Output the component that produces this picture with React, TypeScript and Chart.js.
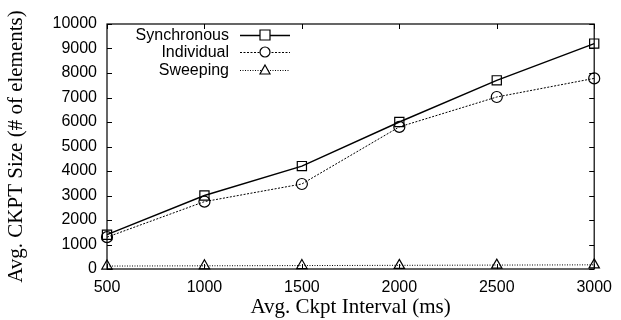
import React, { useEffect, useRef } from "react";
import { Chart, registerables } from "chart.js";

Chart.register(...registerables);

const intervals = [500, 1000, 1500, 2000, 2500, 3000];
const synchronous = [1400, 3000, 4200, 6000, 7700, 9200];
const individual = [1300, 2750, 3470, 5800, 7020, 7780];
const sweeping = [120, 130, 140, 150, 160, 170];
const seriesNames = ["Synchronous", "Individual", "Sweeping"];
const xTicks = [500, 1000, 1500, 2000, 2500, 3000];
const yTicks = [0, 1000, 2000, 3000, 4000, 5000, 6000, 7000, 8000, 9000, 10000];

const SANS = "'Liberation Sans', Arial, sans-serif";
const SERIF = "'Liberation Serif', 'Times New Roman', serif";

const framePlugin = {
  id: "frame",
  afterDatasetsDraw(chart: any) {
    const { ctx, chartArea } = chart;
    const { left, right, top, bottom } = chartArea;
    const xs = chart.scales.x;
    const ys = chart.scales.y;
    ctx.save();
    ctx.strokeStyle = "#000";
    ctx.lineWidth = 1.2;
    ctx.setLineDash([]);
    ctx.strokeRect(left, top, right - left, bottom - top);
    ctx.lineWidth = 1;
    const tl = 5;
    ctx.beginPath();
    xTicks.forEach((v) => {
      const px = Math.round(xs.getPixelForValue(v)) + 0.5;
      ctx.moveTo(px, bottom);
      ctx.lineTo(px, bottom - tl);
      ctx.moveTo(px, top);
      ctx.lineTo(px, top + tl);
    });
    yTicks.forEach((v) => {
      const py = Math.round(ys.getPixelForValue(v)) + 0.5;
      ctx.moveTo(left, py);
      ctx.lineTo(left + tl, py);
      ctx.moveTo(right, py);
      ctx.lineTo(right - tl, py);
    });
    ctx.stroke();

    // legend
    const textRight = 229;
    const lineStart = 240;
    const lineEnd = 290;
    const rows = [35, 52, 70];
    ctx.font = `16px ${SANS}`;
    ctx.fillStyle = "#000";
    ctx.textAlign = "right";
    ctx.textBaseline = "middle";
    chart.data.datasets.forEach((ds: any, i: number) => {
      const y = rows[i];
      ctx.fillText(ds.label, textRight, y + 1);
      ctx.save();
      ctx.strokeStyle = "#000";
      ctx.lineWidth = ds.borderWidth;
      ctx.setLineDash(ds.borderDash || []);
      ctx.beginPath();
      ctx.moveTo(lineStart, y + 0.5);
      ctx.lineTo(lineEnd, y + 0.5);
      ctx.stroke();
      ctx.setLineDash([]);
      ctx.fillStyle = "#fff";
      ctx.lineWidth = 1.2;
      const cx = (lineStart + lineEnd) / 2;
      const r = 5;
      ctx.beginPath();
      if (ds.pointStyle === "rect") {
        ctx.rect(cx - r, y - r, 2 * r, 2 * r);
      } else if (ds.pointStyle === "circle") {
        ctx.arc(cx, y, r, 0, Math.PI * 2);
      } else {
        ctx.moveTo(cx, y - r);
        ctx.lineTo(cx + r, y + r * 0.8);
        ctx.lineTo(cx - r, y + r * 0.8);
        ctx.closePath();
      }
      ctx.fill();
      ctx.stroke();
      ctx.restore();
    });
    ctx.restore();
  },
};

export default function App() {
  const ref = useRef<HTMLCanvasElement>(null);
  useEffect(() => {
    document.body.style.margin = "0";
    const mk = (arr: number[]) => intervals.map((x, i) => ({ x, y: arr[i] }));
    const common = {
      borderColor: "#000",
      pointBorderWidth: 1.2,
      pointBackgroundColor: "rgba(0,0,0,0)",
      pointBorderColor: "#000",
      clip: false,
    };
    const chart = new Chart(ref.current!, {
      type: "line",
      data: {
        datasets: [
          {
            ...common,
            label: seriesNames[0],
            data: mk(synchronous),
            borderWidth: 1.4,
            pointStyle: "rect",
            pointRadius: 6.5,
          },
          {
            ...common,
            label: seriesNames[1],
            data: mk(individual),
            borderWidth: 1,
            borderDash: [2, 1.5],
            pointStyle: "circle",
            pointRadius: 5.5,
          },
          {
            ...common,
            label: seriesNames[2],
            data: mk(sweeping),
            borderWidth: 1,
            borderDash: [1, 1.5],
            pointStyle: "triangle",
            pointRadius: 6,
          },
        ] as any,
      },
      options: {
        animation: false,
        responsive: false,
        layout: { padding: { left: 0, top: 24, right: 22, bottom: 0 } },
        plugins: { legend: { display: false }, tooltip: { enabled: false } },
        elements: { line: { tension: 0 } },
        scales: {
          x: {
            type: "linear",
            min: 500,
            max: 3000,
            afterBuildTicks: (s: any) => {
              s.ticks = xTicks.map((v) => ({ value: v }));
            },
            afterFit: (s: any) => {
              s.height = 51;
            },
            grid: { display: false, drawTicks: false },
            border: { display: false },
            ticks: {
              color: "#000",
              font: { family: SANS, size: 16 },
              padding: 9,
              maxRotation: 0,
              autoSkip: false,
              callback: (v: any) => String(v),
            },
            title: {
              display: true,
              text: "Avg. Ckpt Interval (ms)",
              color: "#000",
              font: { family: SERIF, size: 21 },
              padding: { top: 0, bottom: 0 },
            },
          },
          y: {
            type: "linear",
            min: 0,
            max: 10000,
            afterBuildTicks: (s: any) => {
              s.ticks = yTicks.map((v) => ({ value: v }));
            },
            afterFit: (s: any) => {
              s.width = 107;
            },
            grid: { display: false, drawTicks: false },
            border: { display: false },
            ticks: {
              color: "#000",
              font: { family: SANS, size: 16 },
              padding: 10,
              autoSkip: false,
              callback: (v: any) => String(v),
            },
            title: {
              display: true,
              text: "Avg. CKPT Size (# of elements)",
              color: "#000",
              font: { family: SERIF, size: 21 },
              padding: { top: 4, bottom: 0 },
            },
          },
        },
      },
      plugins: [framePlugin],
    });
    return () => chart.destroy();
  }, []);
  return (
    <div style={{ width: 621, height: 320 }}>
      <canvas ref={ref} width={621} height={320} style={{ display: "block" }} />
    </div>
  );
}
